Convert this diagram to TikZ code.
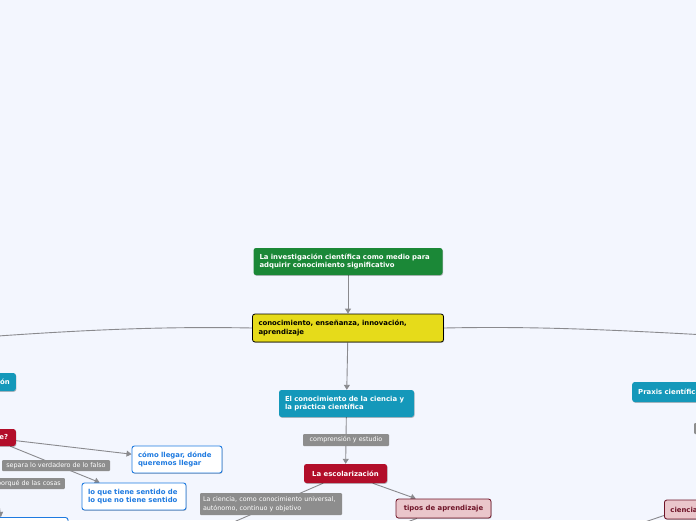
\documentclass[tikz,border=0pt]{standalone}
\usepackage{fontspec}
\setmainfont{DejaVu Sans}
\usepackage{tikz}
\usetikzlibrary{arrows.meta,positioning,calc,shadows}
\definecolor{mapback}{RGB}{243,246,254}
\definecolor{mapgreen}{RGB}{27,136,55}
\definecolor{mapyellow}{RGB}{230,219,26}
\definecolor{mapteal}{RGB}{20,152,186}
\definecolor{mapred}{RGB}{178,14,42}
\definecolor{mappink}{RGB}{234,198,203}
\definecolor{mapwine}{RGB}{110,20,40}
\definecolor{mapblue}{RGB}{30,122,224}
\definecolor{mapgrey}{RGB}{141,141,141}
\definecolor{mapline}{RGB}{138,138,142}
\newcommand{\topicfont}{\fontsize{6.9}{8.6}\selectfont\bfseries}
\newcommand{\tagfont}{\fontsize{6.4}{8.6}\selectfont}
\pgfdeclarelayer{bg}
\pgfdeclarelayer{links}
\pgfsetlayers{bg,links,main}
\tikzset{
	topic/.style={rectangle,rounded corners=2.5pt,inner xsep=6pt,inner ysep=1pt,font=\topicfont,text=white,minimum height=19pt,drop shadow={shadow xshift=.6pt,shadow yshift=-.8pt,opacity=.25,fill=black}},
	sheet/.style={topic,fill=white,draw=mapblue,line width=.9pt,text=mapblue},
	winebox/.style={topic,fill=mappink,draw=mapwine,line width=.8pt,text=mapwine},
	tag/.style={rectangle,rounded corners=1pt,fill=mapgrey,text=white,font=\tagfont,inner xsep=4pt,inner ysep=1pt,minimum height=12pt},
	link/.style={draw=mapline,line width=.9pt},
	arr/.style={link,-{Triangle[width=6pt,length=5pt]}}
}

\begin{document}
\begin{tikzpicture}[x=1pt,y=-1pt]
		\useasboundingbox (0,0) rectangle (696,520);
		\begin{pgfonlayer}{bg}\fill[mapback] (0,0) rectangle (696,520);\end{pgfonlayer}
		\node[topic,fill=mapgreen,text width=177pt,minimum height=27pt,align=left] (investig) at (348,261.5) {La investigación científica como medio para\\adquirir conocimiento significativo};
		\node[topic,fill=mapyellow,draw=black,line width=.8pt,text=black,text width=179pt,minimum height=28pt,align=left] (nucleo) at (348,328) {conocimiento, enseñanza, innovación,\\aprendizaje};
		\node[topic,fill=mapteal,text width=123pt,minimum height=27pt,align=left] (practica) at (346.5,403.5) {El conocimiento de la ciencia y\\la práctica científica};
		\node[tag,minimum width=86pt] (estudio) at (346,440) {comprensión y estudio};
		\node[topic,fill=mapred,minimum width=83pt] (escolar) at (345.5,473.5) {La escolarización};
		\node[tag,text width=136pt,align=left,minimum height=22pt,inner xsep=3pt] (universal) at (271,504) {La ciencia, como conocimiento universal,\\autónomo, continuo y objetivo};
		\node[winebox,minimum width=95pt] (tipos) at (443.5,508.5) {tipos de aprendizaje};
		\node[sheet,text width=78pt,minimum height=27pt,align=left] (llegar) at (177,459.5) {cómo llegar, dónde\\queremos llegar};
		\node[sheet,text width=92pt,minimum height=27pt,align=left] (sentido) at (134,496.5) {lo que tiene sentido de\\lo que no tiene sentido};
		\node[topic,fill=mapred,minimum width=54pt,minimum height=17pt,anchor=east] (sabe) at (16,437.5) {¿Se sabe?};
		\node[topic,fill=mapteal,minimum height=18pt,anchor=east] (innova) at (16,382) {Innovación};
		\node[tag,minimum width=108pt,minimum height=11pt] (falso) at (56,465.5) {separa lo verdadero de lo falso};
		\node[tag,minimum height=11pt,anchor=east] (porque) at (65,483.5) {el porqué de las cosas};
		\node[sheet,minimum width=130pt,minimum height=27pt] (bajo) at (3,531) {};
		\node[topic,fill=mapteal,minimum height=20pt,anchor=west] (praxis) at (632,392) {Praxis científica};
		\node[winebox,anchor=west] (cienc) at (664,509.5) {ciencia};
		\node[tag,minimum width=20pt,minimum height=11pt,anchor=west] (extra) at (694,428.5) {};
		\coordinate (izq) at (-70,341);
		\coordinate (der) at (760,338);
		\coordinate (escbajo) at (220,528);
		\coordinate (tipbajo) at (359,540);
		\coordinate (derbajo) at (636,525);
		\begin{pgfonlayer}{links}
		\draw[arr] (investig) -- (nucleo);
		\draw[arr] (nucleo) -- (practica);
		\draw[link] (practica) -- (estudio);
		\draw[arr] (estudio) -- (escolar);
		\draw[arr] (escolar) -- (tipos);
		\draw[link] (escolar) -- (escbajo);
		\draw[link] (tipos) -- (tipbajo);
		\draw[arr] (sabe) -- (llegar);
		\draw[arr] (sabe) -- (sentido);
		\draw[arr] (sabe) -- (bajo);
		\draw[link] (derbajo) -- ([yshift=-6pt]cienc.west);
		\draw[link] (nucleo.west) .. controls (150,326) and (60,331) .. (izq);
		\draw[link] (nucleo.east) .. controls (540,326) and (620,330) .. (der);
		\end{pgfonlayer}
\end{tikzpicture}
\end{document}
